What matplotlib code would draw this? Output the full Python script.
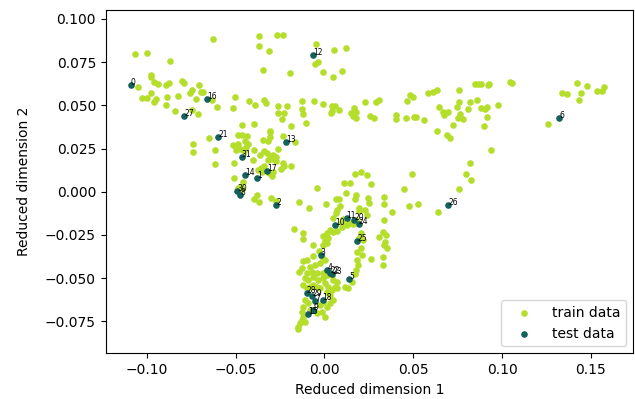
import matplotlib
matplotlib.use("Agg")
import matplotlib.pyplot as plt

# 2-D embedding of the training set
train_x = [
    -0.0627, -0.1066, -0.0997, -0.0869, -0.0977, -0.0974, -0.0959, -0.0935, -0.1047, -0.0893,
    -0.0873, -0.0803, -0.0792, -0.0707, -0.0747, -0.0694, -0.0681, -0.0755, -0.0974, -0.1026,
    -0.1000, -0.0948, -0.0961, -0.0884, -0.0824, -0.0724, -0.0890, -0.0841, -0.0743, -0.0711,
    -0.0634, -0.0603, -0.0503, -0.0513, -0.0424, -0.0391, -0.0338, -0.0327, -0.0464, -0.0394,
    -0.0308, -0.0263, -0.0263, -0.0237, -0.0229, -0.0366, -0.0368, -0.0310, -0.0346, -0.0265,
    -0.0235, -0.0049, 0.0052, 0.0120, -0.0038, -0.0051, -0.0194, -0.0010, 0.0097, 0.0050,
    -0.0209, -0.0128, -0.0126, -0.0122, -0.0057, -0.0006, 0.0044, 0.0061, 0.0041, 0.0037,
    0.0080, -0.0102, -0.0186, 0.0167, 0.0150, 0.0180, 0.0159, 0.0178, 0.0230, 0.0290,
    0.0309, 0.0258, 0.0277, 0.0405, 0.0401, 0.0459, 0.0465, 0.0482, 0.0499, 0.0502,
    0.0514, 0.0560, 0.0581, 0.0609, 0.0634, 0.0647, 0.0669, 0.0673, 0.0697, 0.0722,
    0.0748, 0.0759, 0.0759, 0.0632, 0.0847, 0.0866, 0.0881, 0.0922, 0.0928, 0.1044,
    0.1054, 0.0818, 0.0857, 0.0806, 0.0763, 0.0881, 0.0905, 0.0915, 0.0979, 0.0750,
    0.0778, 0.0913, 0.0900, 0.1260, 0.1420, 0.1476, 0.1335, 0.1365, 0.1442, 0.1534,
    0.1564, 0.1573, 0.1431, -0.0648, -0.0739, -0.0738, -0.0617, -0.0614, -0.0484, -0.0465,
    -0.0434, -0.0448, -0.0430, -0.0439, -0.0514, -0.0486, -0.0496, -0.0475, -0.0452, -0.0396,
    -0.0400, -0.0507, -0.0347, -0.0316, -0.0308, -0.0304, -0.0235, -0.0263, -0.0361, -0.0338,
    -0.0323, -0.0308, -0.0291, -0.0272, -0.0316, -0.0297, -0.0274, -0.0338, -0.0357, -0.0372,
    -0.0353, -0.0312, -0.0295, -0.0288, -0.0507, -0.0456, -0.0469, -0.0484, -0.0462, -0.0378,
    -0.0394, -0.0368, -0.0302, -0.0274, 0.0688, 0.0707, -0.0167, -0.0231, -0.0227, -0.0244,
    -0.0188, 0.0493, 0.0172, 0.0204, 0.0241, 0.0109, 0.0142, 0.0261, -0.0042, 0.0450,
    0.0123, 0.0176, 0.0170, 0.0064, 0.0084, 0.0247, 0.0253, 0.0334, 0.0337, 0.0011,
    -0.0141, -0.0085, 0.0086, 0.0073, 0.0064, 0.0195, 0.0230, 0.0196, 0.0238, 0.0380,
    0.0476, 0.0525, 0.0638, 0.0759, 0.0050, 0.0106, 0.0097, 0.0140, 0.0163, 0.0180,
    0.0337, -0.0169, 0.0937, 0.0819, 0.0795, 0.0825, -0.0119, -0.0120, -0.0066, -0.0006,
    0.0013, 0.0032, 0.0050, 0.0069, 0.0022, 0.0003, -0.0006, 0.0016, 0.0097, 0.0125,
    0.0163, 0.0206, 0.0196, 0.0219, 0.0204, 0.0185, 0.0210, 0.0185, 0.0191, 0.0178,
    0.0262, 0.0307, 0.0331, 0.0347, 0.0337, 0.0351, 0.0341, 0.0331, 0.0331, 0.0172,
    0.0154, 0.0134, -0.0032, -0.0062, -0.0015, 0.0003, -0.0025, -0.0053, -0.0081, -0.0119,
    -0.0141, -0.0124, -0.0100, -0.0109, -0.0091, -0.0062, -0.0071, -0.0043, -0.0034, -0.0006,
    0.0003, 0.0022, 0.0041, 0.0060, 0.0069, 0.0050, 0.0041, 0.0013, -0.0006, -0.0119,
    -0.0100, -0.0081, -0.0062, -0.0043, -0.0025, 0.0013, 0.0032, 0.0069, -0.0109, -0.0091,
    -0.0119, -0.0128, -0.0081, -0.0025, -0.0006, 0.0013, -0.0015, -0.0043, 0.0003, -0.0119,
    -0.0128, -0.0137, -0.0147, -0.0147, -0.0109, 0.0050, 0.0032, -0.0100, 0.0116,
]
train_y = [
    0.0886, 0.0796, 0.0803, 0.0757, 0.0674, 0.0663, 0.0635, 0.0622, 0.0608, 0.0618,
    0.0628, 0.0641, 0.0630, 0.0620, 0.0591, 0.0578, 0.0579, 0.0570, 0.0570, 0.0541,
    0.0545, 0.0535, 0.0520, 0.0549, 0.0556, 0.0535, 0.0501, 0.0469, 0.0475, 0.0448,
    0.0530, 0.0491, 0.0549, 0.0483, 0.0524, 0.0504, 0.0533, 0.0514, 0.0388, 0.0391,
    0.0352, 0.0495, 0.0458, 0.0423, 0.0456, 0.0902, 0.0844, 0.0813, 0.0707, 0.0906,
    0.0909, 0.0854, 0.0822, 0.0834, 0.0751, 0.0740, 0.0689, 0.0692, 0.0699, 0.0664,
    0.0495, 0.0524, 0.0477, 0.0450, 0.0527, 0.0510, 0.0498, 0.0498, 0.0468, 0.0454,
    0.0475, 0.0396, 0.0383, 0.0487, 0.0458, 0.0462, 0.0439, 0.0427, 0.0521, 0.0520,
    0.0531, 0.0440, 0.0425, 0.0443, 0.0421, 0.0425, 0.0524, 0.0558, 0.0550, 0.0433,
    0.0433, 0.0417, 0.0572, 0.0576, 0.0587, 0.0491, 0.0460, 0.0443, 0.0460, 0.0388,
    0.0492, 0.0520, 0.0591, 0.0354, 0.0622, 0.0624, 0.0624, 0.0618, 0.0624, 0.0635,
    0.0631, 0.0520, 0.0531, 0.0481, 0.0452, 0.0485, 0.0481, 0.0489, 0.0502, 0.0427,
    0.0420, 0.0431, 0.0379, 0.0392, 0.0631, 0.0611, 0.0572, 0.0566, 0.0573, 0.0583,
    0.0582, 0.0608, 0.0531, 0.0313, 0.0277, 0.0229, 0.0244, 0.0163, 0.0330, 0.0327,
    0.0323, 0.0294, 0.0277, 0.0261, 0.0269, 0.0275, 0.0240, 0.0246, 0.0238, 0.0240,
    0.0184, 0.0168, 0.0298, 0.0294, 0.0317, 0.0344, 0.0323, 0.0246, 0.0213, 0.0234,
    0.0223, 0.0209, 0.0215, 0.0203, 0.0184, 0.0192, 0.0180, 0.0149, 0.0136, 0.0126,
    0.0116, 0.0107, 0.0093, 0.0113, 0.0078, 0.0058, 0.0030, 0.0020, 0.0016, -0.0017,
    -0.0043, -0.0059, -0.0038, -0.0052, 0.0330, 0.0310, 0.0286, 0.0165, 0.0151, 0.0132,
    0.0151, 0.0103, 0.0103, 0.0113, 0.0095, 0.0049, 0.0051, 0.0043, 0.0024, 0.0014,
    -0.0007, -0.0020, -0.0042, -0.0040, -0.0043, -0.0036, -0.0065, -0.0030, -0.0069, -0.0069,
    -0.0059, -0.0095, -0.0080, -0.0104, -0.0121, -0.0094, -0.0107, -0.0113, -0.0134, -0.0117,
    -0.0082, -0.0071, -0.0117, 0.0014, -0.0150, -0.0156, -0.0177, -0.0179, -0.0188, -0.0163,
    -0.0163, -0.0215, 0.0240, 0.0165, 0.0103, 0.0070, -0.0237, -0.0275, -0.0308, -0.0256,
    -0.0237, -0.0221, -0.0231, -0.0227, -0.0269, -0.0283, -0.0308, -0.0298, -0.0202, -0.0192,
    -0.0182, -0.0240, -0.0269, -0.0279, -0.0327, -0.0347, -0.0366, -0.0395, -0.0424, -0.0453,
    -0.0389, -0.0263, -0.0231, -0.0250, -0.0308, -0.0327, -0.0289, -0.0376, -0.0424, -0.0476,
    -0.0520, -0.0558, -0.0341, -0.0370, -0.0376, -0.0395, -0.0414, -0.0424, -0.0433, -0.0399,
    -0.0462, -0.0443, -0.0472, -0.0501, -0.0510, -0.0491, -0.0462, -0.0472, -0.0510, -0.0501,
    -0.0530, -0.0549, -0.0568, -0.0549, -0.0520, -0.0510, -0.0481, -0.0481, -0.0472, -0.0539,
    -0.0558, -0.0549, -0.0539, -0.0549, -0.0558, -0.0578, -0.0597, -0.0558, -0.0626, -0.0645,
    -0.0665, -0.0694, -0.0684, -0.0655, -0.0636, -0.0665, -0.0694, -0.0703, -0.0723, -0.0723,
    -0.0742, -0.0761, -0.0781, -0.0796, -0.0752, -0.0626, -0.0645, -0.0395, -0.0549,
]

# test samples, numbered by their index
test_id = [0, 1, 2, 3, 4, 5, 6, 7, 8, 9, 10, 11, 12, 13, 14, 15,
           16, 17, 18, 20, 21, 22, 23, 24, 25, 26, 27, 28, 29, 30, 31]
test_x = [-0.1090, -0.0378, -0.0272, -0.0021, 0.0016, 0.0140, 0.1322, -0.0053,
          -0.0473, -0.0064, 0.0058, 0.0125, -0.0064, -0.0214, -0.0445, -0.0094,
          -0.0661, -0.0325, -0.0010, 0.0167, -0.0599, 0.0032, 0.0043, 0.0193,
          0.0185, 0.0696, -0.0788, -0.0100, -0.0068, -0.0490, -0.0465]
test_y = [0.0620, 0.0078, -0.0075, -0.0366, -0.0453, -0.0506, 0.0427, -0.0630,
          -0.0020, -0.0684, -0.0190, -0.0152, 0.0790, 0.0286, 0.0099, -0.0709,
          0.0539, 0.0122, -0.0626, -0.0163, 0.0315, -0.0468, -0.0477, -0.0186,
          -0.0285, -0.0076, 0.0440, -0.0587, -0.0603, 0.0003, 0.0201]

fig = plt.figure(figsize=(6.35, 3.99), dpi=100)
ax = fig.add_axes([0.1665, 0.1145, 0.8308, 0.8604])

ax.scatter(train_x, train_y, s=14, color="#b5de2b", label="train data")
ax.scatter(test_x, test_y, s=14, color="#12615a", label="test data")
for i, x, y in zip(test_id, test_x, test_y):
    ax.text(x, y, str(i), fontsize=5.5)

ax.set_xlim(-0.1231, 0.1738)
ax.set_ylim(-0.0935, 0.1052)
ax.set_xlabel("Reduced dimension 1")
ax.set_ylabel("Reduced dimension 2", labelpad=10)
ax.legend(loc="lower right", scatterpoints=1, handlelength=2.5)

fig.savefig("out.png", dpi=100)
